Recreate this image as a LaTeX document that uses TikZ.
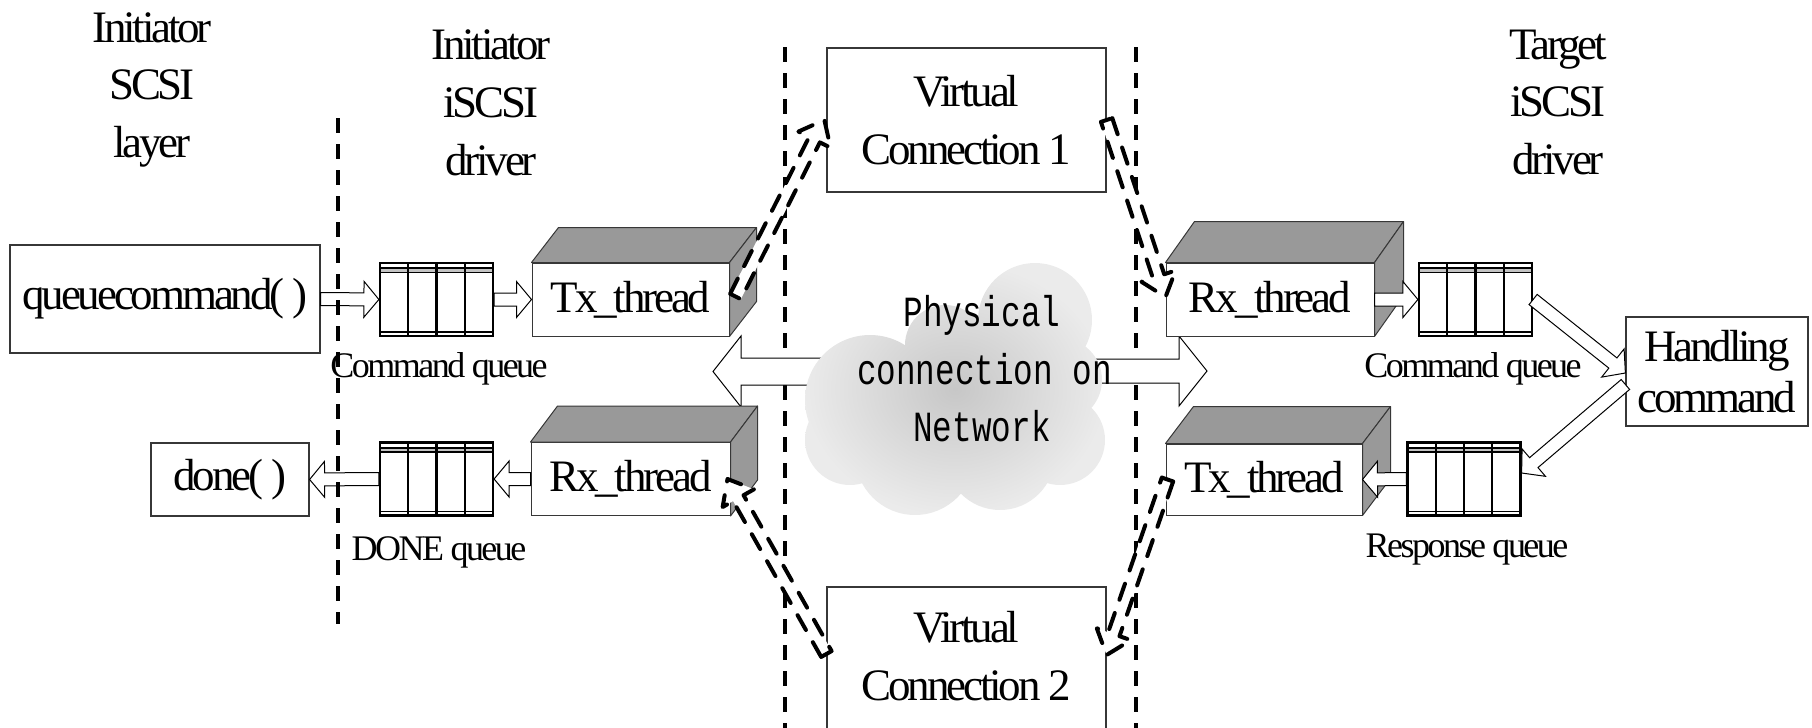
\documentclass[tikz,border=0pt]{standalone}
\usepackage{fontspec}
\setmainfont{Liberation Serif}[LetterSpace=-7]
\newfontfamily\netfont{Liberation Mono}[FakeStretch=0.76]
\usetikzlibrary{calc}

\definecolor{facegray}{RGB}{153,153,153}
\definecolor{bandgray}{RGB}{195,195,195}
\definecolor{edgegray}{RGB}{55,55,55}

\newcommand\fntbig{\fontsize{22.5}{28.75}\selectfont}
\newcommand\fntsmall{\fontsize{18}{21}\selectfont}
\newcommand\fntnet{\netfont\fontsize{21.5}{28.75}\selectfont}

% hollow block arrow: style, tail, tip, shaft half-width, head half-width, head length
\newcommand\hollowarrow[6]{%
  \coordinate (ha-b) at ($(#3)!#6!(#2)$);
  \draw[#1] ($(#2)!#4!90:(#3)$) -- ($(ha-b)!#4!-90:(#2)$) -- ($(ha-b)!#5!-90:(#2)$) -- (#3)
    -- ($(ha-b)!#5!90:(#2)$) -- ($(ha-b)!#4!90:(#2)$) -- ($(#2)!#4!-90:(#3)$) -- cycle;
}

% top and side faces of a thread block: node, depth dx, depth dy
\newcommand\boxfaces[3]{%
  \filldraw[face] (#1.north west) -- ++(#2,#3) -- ($(#1.north east)+(#2,#3)$) -- (#1.north east) -- cycle;
  \filldraw[face] (#1.north east) -- ++(#2,#3) -- ($(#1.south east)+(#2,#3)$) -- (#1.south east) -- cycle;
}

\begin{document}
\begin{tikzpicture}[x=0.5pt, y=-0.5pt,
  plainbox/.style={draw=edgegray, fill=white, line width=0.6pt, inner sep=0pt, font=\fntbig},
  thread/.style={draw=edgegray, fill=white, line width=0.5pt, inner sep=0pt, minimum height=36.5pt, font=\fntbig},
  face/.style={fill=facegray, draw=edgegray, line width=0.5pt, line join=round},
  queue/.style={draw=black, fill=white, line width=1.1pt, inner sep=0pt,
    minimum width=56.5pt, minimum height=36.5pt,
    path picture={
      \fill[bandgray] ([yshift=-2.8pt]path picture bounding box.north west) rectangle ([yshift=-4.6pt]path picture bounding box.north east);
      \draw[line width=0.8pt] ([yshift=-2.6pt]path picture bounding box.north west) -- ([yshift=-2.6pt]path picture bounding box.north east);
      \draw[line width=0.8pt] ([yshift=-4.8pt]path picture bounding box.north west) -- ([yshift=-4.8pt]path picture bounding box.north east);
      \draw[line width=0.7pt] ([yshift=2.1pt]path picture bounding box.south west) -- ([yshift=2.1pt]path picture bounding box.south east);
      \fill ([yshift=1.4pt]path picture bounding box.south west) rectangle (path picture bounding box.south east);
      \foreach \f in {0.25,0.5,0.75}
        \draw[line width=1.2pt] ($(path picture bounding box.north west)!\f!(path picture bounding box.north east)$) -- ($(path picture bounding box.south west)!\f!(path picture bounding box.south east)$);
    }},
  blockarrow/.style={draw=black, fill=white, line width=0.5pt, line join=miter},
  dasharrow/.style={draw=black, fill=white, line width=2pt, line cap=round, line join=round, dash pattern=on 8.5pt off 7pt},
  divider/.style={line width=1.7pt, dash pattern=on 7.5pt off 5.5pt},
  heading/.style={anchor=base, inner sep=0pt, font=\fntbig},
  qlabel/.style={anchor=base, inner sep=0pt, font=\fntsmall},
  netlabel/.style={anchor=base, inner sep=0pt, font=\fntnet}]

\clip (0,0) rectangle (1812,728);

% domain dividers around the network
\coordinate (l2top) at (785,47);  \coordinate (l2bot) at (785,728);
\coordinate (l3top) at (1136,47); \coordinate (l3bot) at (1136,728);
\draw[divider] (l2top) -- (l2bot);
\draw[divider] (l3top) -- (l3bot);

% virtual connections
\node[plainbox, minimum width=139.5pt, minimum height=72pt, align=center] (vc1) at (966.5,120) {Virtual\\Connection 1};
\node[plainbox, minimum width=139.5pt, minimum height=80pt] (vc2) at (966.5,667) {};
\node[font=\fntbig, align=center, inner sep=0pt] (vc2text) at (966.5,656) {Virtual\\Connection 2};

% physical network: wide arrows and cloud
\coordinate (netL) at (900,371.5); \coordinate (netLtip) at (713,371.5);
\coordinate (netR) at (1060,371);  \coordinate (netRtip) at (1207,371);
\hollowarrow{blockarrow}{netL}{netLtip}{6.75pt}{17.75pt}{14pt}
\hollowarrow{blockarrow}{netR}{netRtip}{6pt}{17.5pt}{14pt}

\shade[inner color=black!22, outer color=black!8]
  (1035,320) circle (57) (945,345) circle (40) (870,400) circle (65)
  (850,440) circle (45) (915,455) circle (60) (1000,455) circle (55)
  (1060,440) circle (45) (1060,380) circle (42) (975,395) circle (80);
\node[netlabel] (net1) at (982,326) {Physical};
\node[netlabel] (net2) at (984.5,384) {connection on};
\node[netlabel] (net3) at (982,441) {Network};

% initiator side
\node[plainbox, minimum width=155pt, minimum height=54pt] (qc) at (165,299) {queuecommand( )};
\node[queue] (q1) at (436.5,299.5) {};
\node[thread, minimum width=98.5pt] (txi) at (630.5,299.5) {Tx\_thread};
\boxfaces{txi}{27}{-35}
\node[plainbox, minimum width=79pt, minimum height=36.5pt] (done) at (230,479.5) {done( )};
\node[queue] (q2) at (436.5,479) {};
\node[thread, minimum width=99.5pt] (rxi) at (630.5,479) {Rx\_thread};
\boxfaces{rxi}{27}{-36}

% target side
\node[thread, minimum width=104pt] (rxt) at (1270,299.5) {Rx\_thread};
\boxfaces{rxt}{29}{-41}
\node[thread, minimum width=98pt, minimum height=35.5pt] (txt) at (1264,479.5) {Tx\_thread};
\boxfaces{txt}{28}{-37}
\node[queue] (q3) at (1475.5,299.5) {};
\node[queue] (q4) at (1464,479) {};
\node[plainbox, minimum width=91pt, minimum height=54.5pt, align=center,
  font=\fontsize{22.5}{25.5}\selectfont] (hc) at (1717,371.5) {Handling\\command};

% data flow between stages
\hollowarrow{blockarrow}{qc.east}{q1.west}{3.25pt}{9pt}{7.5pt}
\hollowarrow{blockarrow}{q1.east}{txi.west}{3.25pt}{9pt}{7.5pt}
\hollowarrow{blockarrow}{rxi.west}{q2.east}{3.25pt}{9pt}{7.5pt}
\hollowarrow{blockarrow}{q2.west}{done.east}{3.25pt}{9pt}{7.5pt}
\hollowarrow{blockarrow}{rxt.east}{q3.west}{3.25pt}{9pt}{7.5pt}
\hollowarrow{blockarrow}{q4.west}{txt.east}{3.25pt}{9pt}{7.5pt}
\coordinate (a7tip) at ([yshift=-0.75pt]hc.west);
\coordinate (a8tail) at ([yshift=-6.5pt]hc.west);
\coordinate (a8tip) at ([yshift=3pt]q4.east);
\hollowarrow{blockarrow}{q3.east}{a7tip}{3.25pt}{9pt}{8pt}
\hollowarrow{blockarrow}{a8tail}{a8tip}{3.25pt}{9pt}{8pt}

% divider between SCSI layer and iSCSI driver
\coordinate (l1top) at (338,118); \coordinate (l1bot) at (338,624);
\draw[divider] (l1top) -- (l1bot);

% virtual connection links
\coordinate (d1tail) at ([shift={(3pt,1.5pt)}]txi.east);
\coordinate (d1tip) at ([xshift=-1pt]vc1.west);
\coordinate (d2tail) at (vc1.east);
\coordinate (d2tip) at ([yshift=1.25pt]rxt.west);
\coordinate (d3tail) at ([yshift=6.5pt]vc2.west);
\coordinate (d3tip) at ([xshift=-1.5pt]rxi.east);
\coordinate (d4tail) at ([xshift=1pt]txt.west);
\coordinate (d4tip) at ([yshift=6pt]vc2.east);
\hollowarrow{dasharrow}{d1tail}{d1tip}{3pt}{9pt}{11pt}
\hollowarrow{dasharrow}{d2tail}{d2tip}{3pt}{9pt}{11pt}
\hollowarrow{dasharrow}{d3tail}{d3tip}{3pt}{9pt}{11pt}
\hollowarrow{dasharrow}{d4tail}{d4tip}{3pt}{9pt}{11pt}

% queue labels
\node[qlabel] (q1lab) at (439,377) {Command queue};
\node[qlabel] (q2lab) at (439,560) {DONE queue};
\node[qlabel] (q3lab) at (1473,377) {Command queue};
\node[qlabel] (q4lab) at (1467,557) {Response queue};

% layer headings
\node[heading] (h1a) at (152,42) {Initiator};
\node[heading] (h1b) at (152,99.5) {SCSI};
\node[heading] (h1c) at (152,157) {layer};
\node[heading] (h2a) at (491,60) {Initiator};
\node[heading] (h2b) at (491,117.5) {iSCSI};
\node[heading] (h2c) at (491,175) {driver};
\node[heading] (h3a) at (1558,59) {Target};
\node[heading] (h3b) at (1558,116.5) {iSCSI};
\node[heading] (h3c) at (1558,174) {driver};
\end{tikzpicture}
\end{document}
